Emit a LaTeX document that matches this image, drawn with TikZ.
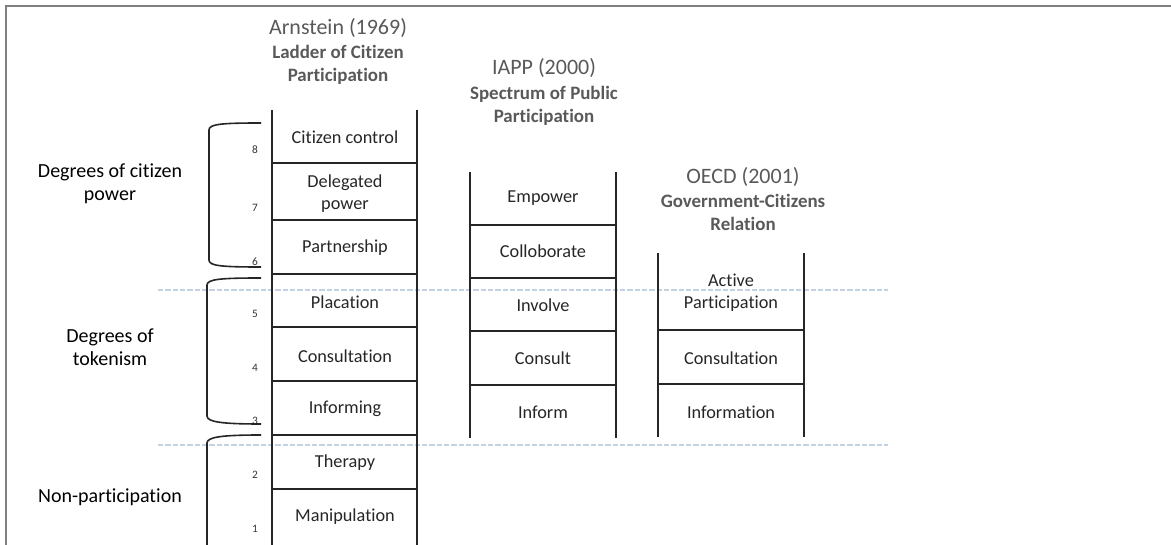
\documentclass[tikz,border=0pt]{standalone}
\usepackage{fontspec}
\setmainfont{Carlito}[Ligatures=NoCommon]
\definecolor{titlegray}{HTML}{595959}
\definecolor{guideblue}{HTML}{C3D2E3}
\definecolor{framegray}{HTML}{808080}

\begin{document}
\begin{tikzpicture}[x=0.75pt, y=-0.75pt,
  every node/.style={inner sep=0pt, align=center, text=black!85, font=\fontsize{13.7}{16.5}\selectfont},
  rail/.style={line width=1.5pt, black!85},
  rung/.style={line width=1.2pt, black!85},
  brace/.style={line width=1.2pt, black!85},
  guide/.style={guideblue, line width=1.3pt, dash pattern=on 4pt off 1.5pt},
  num/.style={text=black!80, font=\fontsize{8.5}{9}\selectfont},
  group/.style={text=black, font=\fontsize{15}{17.3}\selectfont},
  head/.style={text=titlegray, font=\fontsize{16.5}{18}\selectfont},
  sub/.style={text=titlegray, font=\bfseries\fontsize{14.2}{17.3}\selectfont}]

\useasboundingbox (0,0) rectangle (1171,545);

% Frame
\draw[framegray, line width=1.5pt] (6,545) -- (6,6) -- (1171,6);

% Guide lines
\draw[guide] (158,290) -- (888,290);
\draw[guide] (158,445) -- (888,445);

% Arnstein ladder
\draw[rail] (272,110) -- (272,545);
\draw[rail] (417,110) -- (417,545);
\draw[rung] (272,163) -- (417,163);
\draw[rung] (272,220) -- (417,220);
\draw[rung] (272,274) -- (417,274);
\draw[rung] (272,327) -- (417,327);
\draw[rung] (272,381) -- (417,381);
\draw[rung] (272,435) -- (417,435);
\draw[rung] (272,489) -- (417,489);

\node (a8) at (345,137) {Citizen control};
\node (a7) at (345,194) {Delegated\\power};
\node (a6) at (345,248) {Partnership};
\node (a5) at (345,302) {Placation};
\node (a4) at (345,356) {Consultation};
\node (a3) at (345,409) {Informing};
\node (a2) at (345,463) {Therapy};
\node (a1) at (345,517) {Manipulation};

\node[num] (n8) at (255,150) {8};
\node[num] (n7) at (255,208) {7};
\node[num] (n6) at (255,262) {6};
\node[num] (n5) at (255,314) {5};
\node[num] (n4) at (255,368) {4};
\node[num] (n3) at (255,421) {3};
\node[num] (n2) at (255,475) {2};
\node[num] (n1) at (255,529) {1};

\node[head] (arnstein) at (338,28) {Arnstein (1969)};
\node[sub] (ladder) at (338,65) {Ladder of Citizen\\Participation};

% Brackets and groups
\draw[brace] (261,123) .. controls (222,123) and (209,124) .. (209,130) -- (209,260) .. controls (209,266) and (222,267) .. (261,267);
\draw[brace] (261,278) .. controls (222,278) and (207,279) .. (207,285) -- (207,416) .. controls (207,422) and (222,424) .. (261,424);
\draw[brace] (261,435) .. controls (222,435) and (207,437) .. (207,443) -- (207,545);

\node[group] (power) at (110,184) {Degrees of citizen\\power};
\node[group] (token) at (110,347) {Degrees of\\tokenism};
\node[group] (nonpart) at (110,497) {Non-participation};

% IAPP ladder
\draw[rail] (470,172) -- (470,438);
\draw[rail] (616,172) -- (616,438);
\draw[rung] (470,225) -- (616,225);
\draw[rung] (470,278) -- (616,278);
\draw[rung] (470,331) -- (616,331);
\draw[rung] (470,385) -- (616,385);

\node (i5) at (543,198) {Empower};
\node (i4) at (543,251) {Colloborate};
\node (i3) at (543,305) {Involve};
\node (i2) at (543,358) {Consult};
\node (i1) at (543,412) {Inform};

\node[head] (iapp) at (544,68) {IAPP (2000)};
\node[sub] (spectrum) at (544,106) {Spectrum of Public\\Participation};

% OECD ladder
\draw[rail] (658,253) -- (658,437);
\draw[rail] (804,253) -- (804,437);
\draw[rung] (658,330) -- (804,330);
\draw[rung] (658,384) -- (804,384);

\node (o3) at (731,293) {Active\\Participation};
\node (o2) at (731,358) {Consultation};
\node (o1) at (731,412) {Information};

\node[head] (oecd) at (743,177) {OECD (2001)};
\node[sub] (relation) at (743,212) {Government-Citizens\\Relation};

\end{tikzpicture}
\end{document}
